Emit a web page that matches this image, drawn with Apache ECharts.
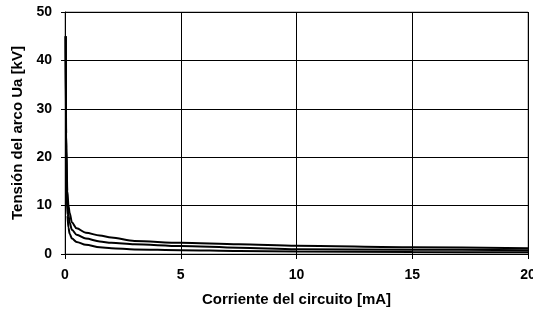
<!DOCTYPE html>
<html>
<head>
<meta charset="utf-8">
<script src="https://cdn.jsdelivr.net/npm/echarts@6/dist/echarts.min.js"></script>
<style>
  html, body { margin: 0; padding: 0; background: #fff; }
  #chart { width: 533px; height: 318px; }
</style>
</head>
<body>
<div id="chart"></div>
<script>
  // corriente [mA]
  var corriente = [0.03, 0.05, 0.1, 0.15, 0.2, 0.3, 0.5, 0.9, 1.5, 2, 3, 5, 7.5, 10, 15, 20];
  // tension [kV] de las tres curvas
  var curvaAlta  = [45, 25, 13, 10, 8.5, 6.5, 5.3, 4.4, 3.8, 3.4, 2.7, 2.3, 2.0, 1.7, 1.4, 1.2];
  var curvaMedia = [45, 22, 11, 8, 6.5, 5.0, 4.0, 3.2, 2.6, 2.3, 2.0, 1.65, 1.3, 1.0, 0.9, 0.8];
  var curvaBaja  = [45, 18, 8, 5.5, 4.2, 3.2, 2.5, 1.9, 1.4, 1.2, 0.95, 0.8, 0.6, 0.5, 0.4, 0.35];
  var xTicks = [0, 5, 10, 15, 20];
  var yTicks = [0, 10, 20, 30, 40, 50];

  function pares(ys) {
    return corriente.map(function (x, i) { return [x, ys[i]]; });
  }

  var font = 'Liberation Sans, Arial, sans-serif';
  var chart = echarts.init(document.getElementById('chart'));

  var serieBase = {
    type: 'line',
    smooth: 0.3,
    smoothMonotone: 'x',
    showSymbol: false,
    lineStyle: { color: '#000', width: 2 }
  };

  chart.setOption({
    animation: false,
    grid: {
      left: 65, right: 5, top: 12, bottom: 64,
      outerBoundsMode: 'none', containLabel: false,
      show: true, borderColor: '#888', borderWidth: 1
    },
    xAxis: {
      type: 'value',
      min: xTicks[0], max: xTicks[xTicks.length - 1], interval: 5,
      name: 'Corriente del circuito [mA]',
      nameLocation: 'middle', nameGap: 38,
      nameTextStyle: { fontFamily: font, fontWeight: 'bold', fontSize: 15, color: '#000' },
      axisLine: { lineStyle: { color: '#000', width: 1 } },
      axisTick: { show: true, length: 5, lineStyle: { color: '#000' } },
      axisLabel: { fontFamily: font, fontWeight: 'bold', fontSize: 14, color: '#000', margin: 14 },
      splitLine: { show: true, lineStyle: { color: '#000', width: 1 } }
    },
    yAxis: {
      type: 'value',
      min: yTicks[0], max: yTicks[yTicks.length - 1], interval: 10,
      name: 'Tensión del arco Ua [kV]',
      nameLocation: 'middle', nameGap: 40, nameRotate: 90,
      nameTextStyle: { fontFamily: font, fontWeight: 'bold', fontSize: 15, color: '#000' },
      axisLine: { show: true, lineStyle: { color: '#000', width: 1 } },
      axisTick: { show: true, length: 4, lineStyle: { color: '#000' } },
      axisLabel: { fontFamily: font, fontWeight: 'bold', fontSize: 14, color: '#000', margin: 13 },
      splitLine: { show: true, lineStyle: { color: '#000', width: 1 } }
    },
    series: [
      Object.assign({ name: 'alta', data: pares(curvaAlta) }, serieBase),
      Object.assign({ name: 'media', data: pares(curvaMedia) }, serieBase),
      Object.assign({ name: 'baja', data: pares(curvaBaja) }, serieBase)
    ]
  });
</script>
</body>
</html>
